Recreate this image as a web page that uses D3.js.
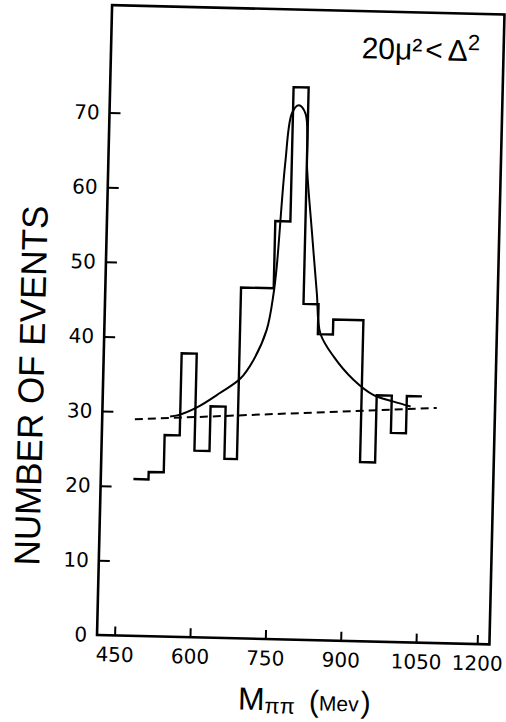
<!DOCTYPE html>
<html>
<head>
<meta charset="utf-8">
<script src="https://cdn.jsdelivr.net/npm/d3@7"></script>
<style>
  html, body { margin: 0; padding: 0; background: #fff; }
  svg { display: block; }
</style>
</head>
<body>
<script>
// ---- data ----
const binEdges = [480, 510, 540, 570, 600, 630, 660, 685, 750, 780, 810, 840, 870, 930, 960, 990, 1020, 1050];
const counts   = [21, 22, 27, 38, 25, 31, 24, 47, 56, 74, 45, 41, 43, 24, 33, 28, 33];

const fitMass   = [550, 566, 603, 648, 688, 713, 738, 750, 755, 767, 778, 791, 805, 811, 823, 836, 845, 873, 913, 954, 994, 1028];
const fitEvents = [29.5, 29.7, 30.8, 32.8, 34.8, 37.3, 41.4, 46.3, 49.9, 63.8, 70.5, 71.6, 70.5, 62.9, 54.9, 46.5, 41.1, 38.0, 35.0, 33.0, 32.2, 31.6];

const bgMass   = [480, 1087];
const bgEvents = [29.0, 31.5];

const xTicks = [450, 600, 750, 900, 1050, 1200];
const yTicks = [0, 10, 20, 30, 40, 50, 60, 70];

// ---- layout ----
const W = 506, H = 722;
const pL = 104.5, pR = 497, pT = 9.75, pB = 639.75;

// hand-drawn axis: the 1200 tick sits closer than the others
const x = d3.scaleLinear().domain([415, 1050, 1230]).range([pL, 423.6, pR]);
const y = d3.scaleLinear().domain([0, 84.4]).range([pB, pT]);

const svg = d3.select("body").append("svg").attr("width", W).attr("height", H);
svg.append("rect").attr("width", W).attr("height", H).attr("fill", "#fff");

// the scanned page is slightly tilted
const g = svg.append("g").attr("transform", "rotate(1.37 300.75 324.75)");

// frame
g.append("rect")
  .attr("x", pL).attr("y", pT)
  .attr("width", pR - pL).attr("height", pB - pT)
  .attr("fill", "none").attr("stroke", "#000").attr("stroke-width", 2.6);

// axes
const yAxis = d3.axisLeft(y).tickValues(yTicks).tickSizeInner(-11).tickSizeOuter(0).tickPadding(10)
  .tickFormat(d3.format("d"));
const ya = g.append("g").attr("transform", `translate(${pL},0)`).call(yAxis);
ya.select(".domain").remove();
ya.selectAll(".tick line").attr("stroke", "#000").attr("stroke-width", 2)
  .filter(d => d === 0).remove();
ya.selectAll(".tick text").attr("font-family", "'DejaVu Sans', sans-serif").attr("font-size", 20).attr("fill", "#000");

const xAxis = d3.axisBottom(x).tickValues(xTicks).tickSizeInner(-9).tickSizeOuter(0).tickPadding(12)
  .tickFormat(d3.format("d"));
const xa = g.append("g").attr("transform", `translate(0,${pB})`).call(xAxis);
xa.select(".domain").remove();
xa.selectAll(".tick line").attr("stroke", "#000").attr("stroke-width", 2);
xa.selectAll(".tick text").attr("font-family", "'DejaVu Sans', sans-serif").attr("font-size", 20).attr("fill", "#000");

// histogram (step line)
const histPts = counts.map((c, i) => [binEdges[i], c]);
histPts.push([binEdges[binEdges.length - 1], counts[counts.length - 1]]);
g.append("path")
  .attr("d", d3.line().x(d => x(d[0])).y(d => y(d[1])).curve(d3.curveStepAfter)(histPts))
  .attr("fill", "none").attr("stroke", "#000").attr("stroke-width", 2.4);

// background (dashed)
g.append("path")
  .attr("d", d3.line().x((d, i) => x(bgMass[i])).y((d, i) => y(bgEvents[i]))(bgMass))
  .attr("fill", "none").attr("stroke", "#000").attr("stroke-width", 2)
  .attr("stroke-dasharray", "8,5");

// resonance fit curve
g.append("path")
  .attr("d", d3.line().x((d, i) => x(fitMass[i])).y((d, i) => y(fitEvents[i])).curve(d3.curveCatmullRom.alpha(0.5))(fitMass))
  .attr("fill", "none").attr("stroke", "#000").attr("stroke-width", 2);

// label top right
const lab = g.append("text").attr("x", 355).attr("y", 57)
  .attr("font-family", "'Liberation Sans', Arial, sans-serif").attr("font-size", 30).attr("fill", "#000");
lab.append("tspan").text("20μ²");
lab.append("tspan").attr("dx", 3).text("<");
lab.append("tspan").attr("dx", 5).text("Δ");
lab.append("tspan").attr("dy", -11).attr("font-size", 22).text("2");

// y axis title
g.append("text")
  .attr("transform", "translate(45,392) rotate(-90)")
  .attr("text-anchor", "middle")
  .attr("font-family", "'Liberation Sans', Arial, sans-serif").attr("font-size", 36)
  .attr("textLength", 360).attr("lengthAdjust", "spacingAndGlyphs")
  .attr("fill", "#000")
  .text("NUMBER OF EVENTS");

// x axis title
const xt = g.append("text").attr("x", 247).attr("y", 711)
  .attr("font-family", "'Liberation Sans', Arial, sans-serif").attr("fill", "#000");
xt.append("tspan").attr("font-size", 32).text("M");
xt.append("tspan").attr("font-size", 22).attr("dy", 3).text("ππ");
xt.append("tspan").attr("font-size", 30).attr("dx", 14).attr("dy", -3).text("(");
xt.append("tspan").attr("font-size", 21).attr("dy", -1).text("Mev");
xt.append("tspan").attr("font-size", 30).attr("dx", 2).attr("dy", 1).text(")");
</script>
</body>
</html>
